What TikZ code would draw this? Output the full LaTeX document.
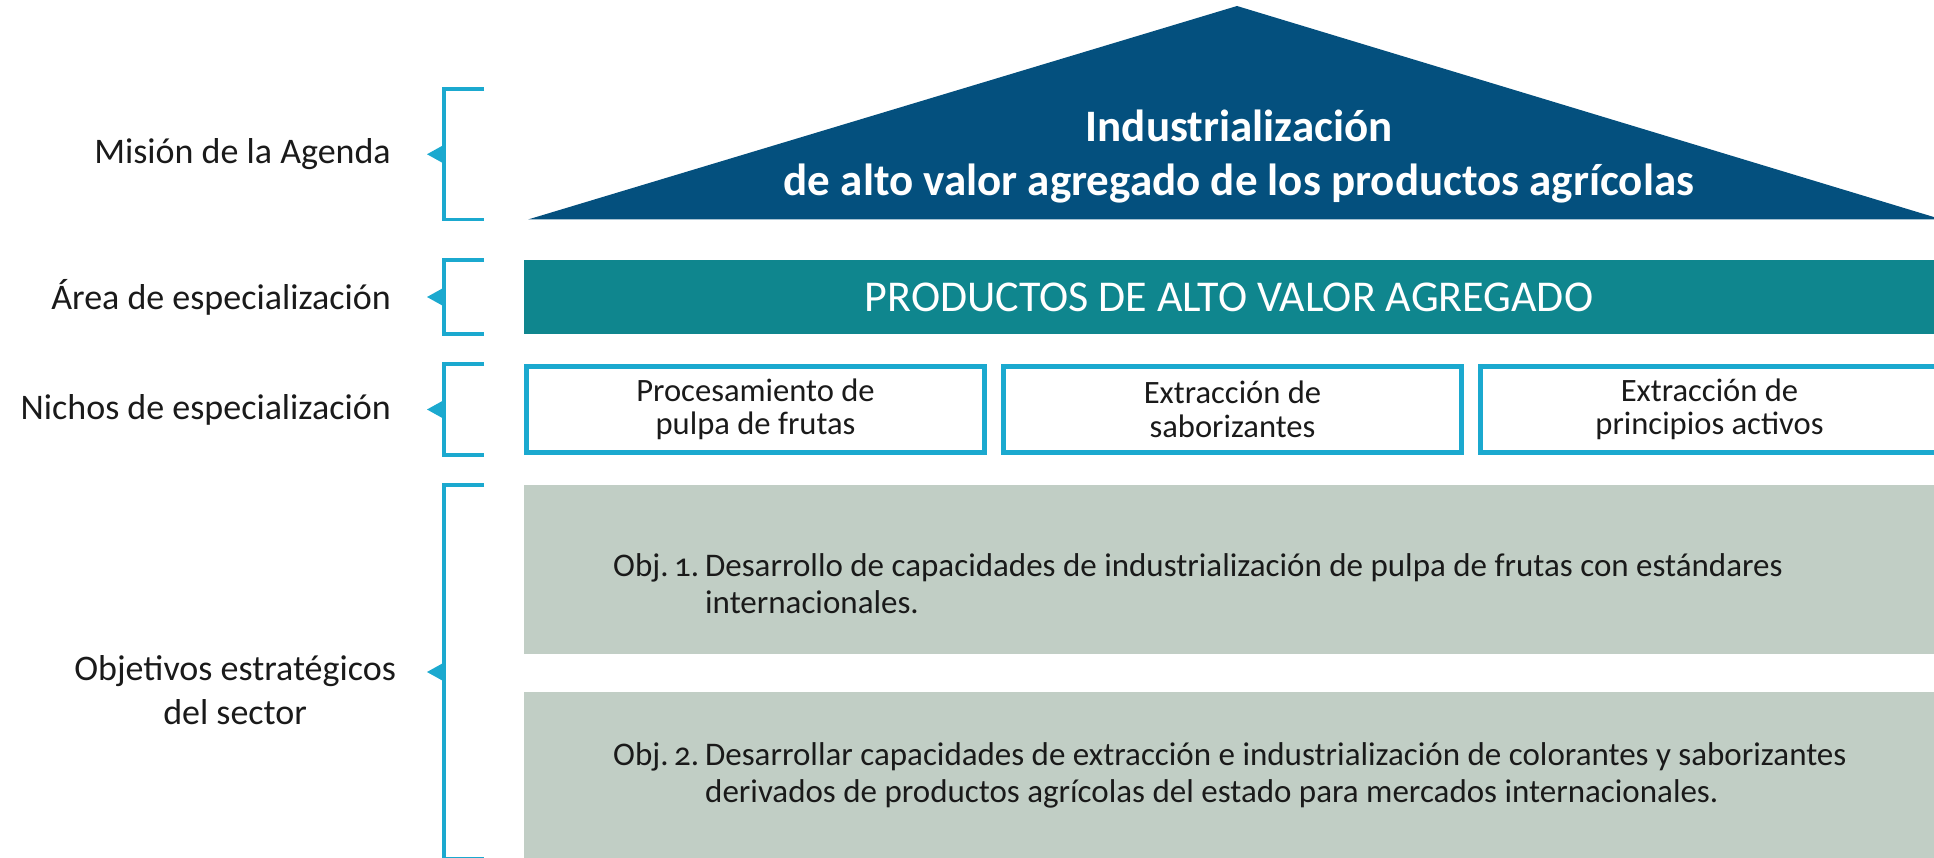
\documentclass[tikz,border=0pt]{standalone}
\usepackage{fontspec}
\setmainfont{Carlito}[Numbers=OldStyle]
\usetikzlibrary{positioning}
\definecolor{colMision}{HTML}{04507E}
\definecolor{colArea}{HTML}{0F868E}
\definecolor{colMarco}{HTML}{1BA9CF}
\definecolor{colObj}{HTML}{C1CEC5}
\definecolor{colTexto}{HTML}{1A1A1A}

\begin{document}
\begin{tikzpicture}[x=1pt, y=-1pt, node distance=14pt,
    etiqueta/.style={anchor=east, align=center, inner sep=0pt, text=colTexto, font=\fontsize{36}{44}\selectfont},
    nicho/.style={draw=colMarco, line width=5pt, minimum width=458pt, minimum height=86pt, align=center, text=colTexto, font=\fontsize{32.6}{33.5}\selectfont},
    objbox/.style={fill=colObj, minimum width=1410pt, anchor=north west, inner sep=0pt},
    objtexto/.style={anchor=base west, inner sep=0pt, text=colTexto, font=\fontsize{33}{37}\selectfont},
    corchete/.style={draw=colMarco, line width=3.5pt}]
    \useasboundingbox (0,0) rectangle (1934,858);

    \fill[colMision] (528,219.5) -- (1237,6) -- (1942,219.5) -- cycle;
    \node[text=white, align=center, font=\fontsize{45}{54}\selectfont\bfseries] (mision) at (1239,157) {Industrialización\\de alto valor agregado de los productos agrícolas};

    \node[fill=colArea, minimum width=1410pt, minimum height=74pt, text=white, font=\fontsize{44}{46}\selectfont] (area) at (1229,297) {PRODUCTOS DE ALTO VALOR AGREGADO};

    \node[nicho] (n1) at (755.5,409.5) {Procesamiento de\\pulpa de frutas};
    \node[nicho, right=of n1] (n2) {Extracción de\\saborizantes};
    \node[nicho, right=of n2] (n3) {Extracción de\\principios activos};

    \node[objbox, minimum height=169pt] (obj1) at (524,485) {};
    \node[objbox, minimum height=170pt] (obj2) at (524,692) {};
    \node[objtexto] (t1) at (613,576) {\begin{tabular}[t]{@{}l@{\hspace{6pt}}l@{}}Obj.\,1. & Desarrollo de capacidades de industrialización de pulpa de frutas con estándares\\ & internacionales.\end{tabular}};
    \node[objtexto] (t2) at (613,765) {\begin{tabular}[t]{@{}l@{\hspace{6pt}}l@{}}Obj.\,2. & Desarrollar capacidades de extracción e industrialización de colorantes y saborizantes\\ & derivados de productos agrícolas del estado para mercados internacionales.\end{tabular}};

    \foreach \t/\b in {89/219.5, 260/334, 364/455, 485/859} {
        \draw[corchete] (484,\t) -- (444,\t) -- (444,\b) -- (484,\b);
        \fill[colMarco] (427,{(\t+\b)/2}) -- ++(18,-10) -- ++(0,20) -- cycle;
    }

    \node[etiqueta] (lmision) at (391,154) {Misión de la Agenda};
    \node[etiqueta] (larea) at (391,297) {Área de especialización};
    \node[etiqueta] (lnichos) at (391,409.5) {Nichos de especialización};
    \node[etiqueta] (lobj) at (396,690) {Objetivos estratégicos\\del sector};
\end{tikzpicture}
\end{document}
